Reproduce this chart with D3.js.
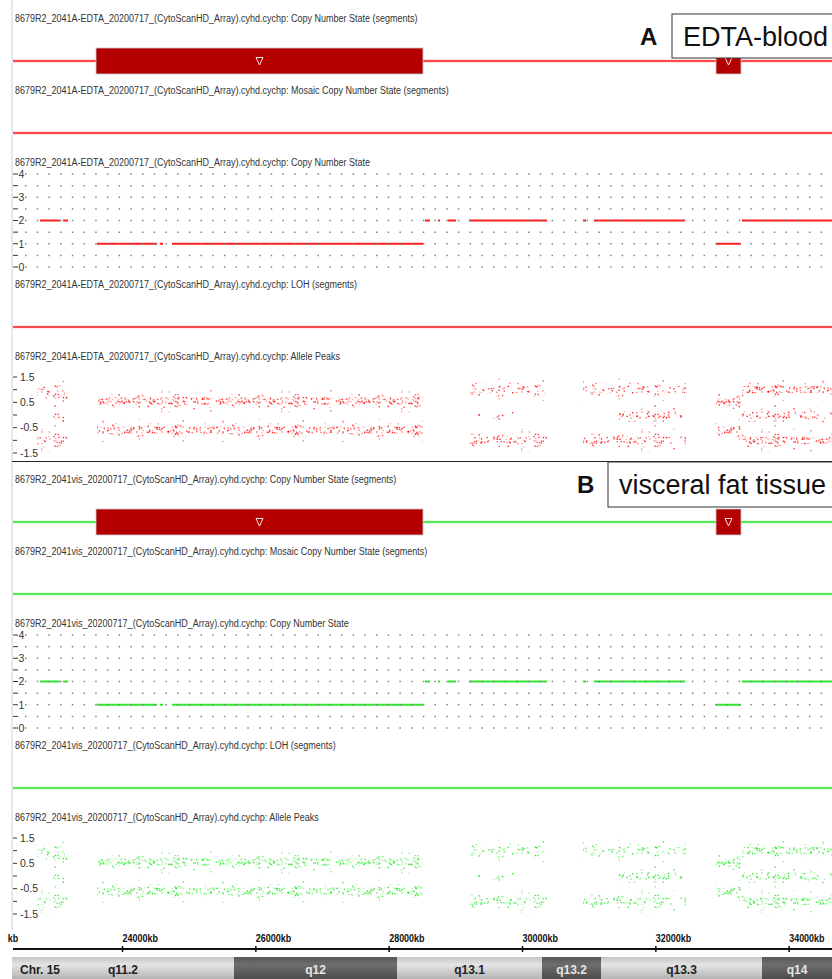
<!DOCTYPE html>
<html>
<head>
<meta charset="utf-8">
<script src="https://cdn.jsdelivr.net/npm/d3@7"></script>
<style>
  body{margin:0;background:#fff;}
  svg{display:block;}
</style>
</head>
<body>
<svg id="chart"></svg>
<script>
// ---- data ----
var samples = ["8679R2_2041A-EDTA_20200717_(CytoScanHD_Array).cyhd.cychp",
               "8679R2_2041vis_20200717_(CytoScanHD_Array).cyhd.cychp"];
var panelLetters = ["A","B"];
var tissues = ["EDTA-blood","visceral fat tissue"];
var trackNames = ["Copy Number State (segments)","Mosaic Copy Number State (segments)",
                  "Copy Number State","LOH (segments)","Allele Peaks"];

var kbTicks = [24000,26000,28000,30000,32000,34000];

// cytoband ideogram, chr 15
var bandNames = ["q11.2","q12","q13.1","q13.2","q13.3","q14"];
var bandStarts = [22350,25680,28125,30300,31185,33600];
var bandEnds   = [25680,28125,30300,31185,33600,34650];
var bandStain  = ["gneg","gpos","gneg","gpos","gneg","gpos"];

// copy number loss segments (CN state segments track)
var lossStart = [23610,32910];
var lossEnd   = [28515,33285];

// copy number state, per marker run
var cnStart = [22770,23115,23625,24570,24750,28545,28740,28890,29205,30915,31080,32910,33300];
var cnEnd   = [23070,23190,24525,24615,28515,28620,28770,29010,30375,30960,32445,33285,34650];
var cnState = [2,2,1,1,1,2,2,2,2,2,2,1,2];
var cnTicks = [0,0.5,1,1.5,2,2.5,3,3.5,4];

// allele peak clusters: start, end, peak value, density (2 dense, 1 medium, 0 sparse)
var peakStart = [22725,22950,22725, 23625,23625, 29205,29340,29205, 30915,31455,30915, 32910,32910, 33300,33300,33300];
var peakEnd   = [23190,23130,23190, 28515,28515, 30375,29895,30375, 32460,32400,32460, 33285,33285, 34650,34650,34650];
var peakValue = [0.9,0,-1.0, 0.55,-0.6, 1.0,0,-1.0, 1.0,0,-1.0, 0.5,-0.6, 1.0,0,-1.0];
var peakDens  = [1,0,1, 2,2, 1,0,1, 1,1,1, 2,2, 2,1,2];
var apTicks = [1.5,1,0.5,0,-0.5,-1,-1.5];
var apLabels = {"1.5":"1.5","0.5":"0.5","-0.5":"-0.5","-1.5":"-1.5"};

// ---- layout ----
var W = 832, H = 979;
var panelTop = [0,461];
var colors = [{line:"#ff1c1c",halo:"#ffd0d0",dot:"#ff1e1e"},
              {line:"#2ee62e",halo:"#d0f7d0",dot:"#30e830"}];
var boxes = [{x:672,y:14,h:44,lx:640},{x:608,y:462,h:45,lx:577}];
var sans = "'Liberation Sans',Arial,sans-serif";
var squeeze = 0.85;

var svg = d3.select("#chart").attr("width",W).attr("height",H);
var defs = svg.append("defs");

var x = d3.scaleLinear().domain([22350,34650]).range([12,832]);

// speckle textures for the allele peak clouds (styling only)
var tileW = 120, tileH = 20;
var dotCounts = [12,42,150,280];
function hash(k){ var s = Math.sin(k*12.9898+78.233)*43758.5453; return s-Math.floor(s); }
colors.forEach(function(c,ci){
  dotCounts.forEach(function(n,di){
    var p = defs.append("pattern")
                .attr("id","sp"+ci+"_"+di)
                .attr("patternUnits","userSpaceOnUse")
                .attr("width",tileW).attr("height",tileH);
    var pts = d3.range(n).map(function(i){
      var k = i*3+di*1000;
      return [hash(k)*tileW,hash(k+1)*tileH,hash(k+2)];
    });
    p.selectAll("rect").data(pts).enter().append("rect")
     .attr("x",function(d){return d[0];})
     .attr("y",function(d){return d[1];})
     .attr("width",1.4).attr("height",1.4)
     .attr("fill",c.dot)
     .attr("opacity",function(d){return 0.4+0.6*d[2];});
  });
});

// ideogram gradients
function grad(id,stops){
  var g = defs.append("linearGradient").attr("id",id)
              .attr("x1",0).attr("y1",0).attr("x2",0).attr("y2",1);
  stops.forEach(function(s){
    g.append("stop").attr("offset",s[0]).attr("stop-color",s[1]);
  });
}
grad("gneg",[[0,"#c4c4c4"],[0.35,"#e4e4e4"],[1,"#b4b4b4"]]);
grad("gpos",[[0,"#585858"],[0.35,"#6e6e6e"],[1,"#4c4c4c"]]);

// faint left border
svg.append("line").attr("x1",12).attr("x2",12).attr("y1",0).attr("y2",930)
   .attr("stroke","#dcdcf0").attr("stroke-width",1.5);

function narrowText(g,xp,yp,size,t,fill){
  return g.append("text")
          .attr("transform","translate("+xp+","+yp+") scale("+squeeze+",1)")
          .attr("font-family",sans).attr("font-size",size)
          .attr("fill",fill||"#333").text(t);
}

function trackLine(g,y,c){
  g.append("line").attr("x1",13).attr("x2",W).attr("y1",y).attr("y2",y)
   .attr("stroke",c.halo).attr("stroke-width",3.2);
  g.append("line").attr("x1",13).attr("x2",W).attr("y1",y).attr("y2",y)
   .attr("stroke",c.line).attr("stroke-width",1.4);
}

function title(g,y,s,t){
  narrowText(g,15,y,10.6,s+": "+t,"#333");
}

function drawPanel(pi){
  var top = panelTop[pi], c = colors[pi];
  var g = svg.append("g").attr("transform","translate(0,"+top+")");

  // track 1: copy number segments
  title(g,22,samples[pi],trackNames[0]);
  trackLine(g,61,c);
  var segs = g.selectAll("g.seg").data(lossStart).enter().append("g").classed("seg",true);
  segs.append("rect")
      .attr("x",function(d){return x(d);})
      .attr("width",function(d,i){return x(lossEnd[i])-x(d);})
      .attr("y",48).attr("height",26)
      .attr("fill","#b40000").attr("stroke","#c8c8c8").attr("stroke-width",0.8);
  segs.append("path")
      .attr("d",function(d,i){
        var cx = (x(d)+x(lossEnd[i]))/2;
        return "M"+(cx-3.5)+",57.5L"+(cx+3.5)+",57.5L"+cx+",65Z";
      })
      .attr("fill","none").attr("stroke","#fff").attr("stroke-width",0.9);

  // track 2: mosaic
  title(g,94,samples[pi],trackNames[1]);
  trackLine(g,133,c);

  // track 3: copy number state
  title(g,166,samples[pi],trackNames[2]);
  var yCN = d3.scaleLinear().domain([0,4]).range([267,174]);
  g.selectAll("line.cn").data(cnStart).enter().append("line").classed("cn",true)
   .attr("x1",function(d){return x(d);})
   .attr("x2",function(d,i){return x(cnEnd[i]);})
   .attr("y1",function(d,i){return yCN(cnState[i]);})
   .attr("y2",function(d,i){return yCN(cnState[i]);})
   .attr("stroke",c.line).attr("stroke-width",2);
  g.selectAll("line.cngrid").data(cnTicks).enter().append("line").classed("cngrid",true)
   .attr("x1",25).attr("x2",W)
   .attr("y1",function(d){return yCN(d);}).attr("y2",function(d){return yCN(d);})
   .attr("stroke","#808080").attr("stroke-width",1.5).attr("stroke-dasharray","1.5,10.2");
  var cnAx = g.selectAll("g.cntick").data(cnTicks).enter().append("g").classed("cntick",true)
              .attr("transform",function(d){return "translate(0,"+yCN(d)+")";});
  cnAx.append("line").attr("x1",13).attr("x2",18).attr("stroke","#333").attr("stroke-width",1);
  cnAx.filter(function(d){return d%1===0;}).append("text")
      .attr("x",18.5).attr("dy","0.36em")
      .attr("font-family",sans).attr("font-size",10.5).attr("fill","#333")
      .text(function(d){return d;});

  // track 4: LOH
  title(g,288,samples[pi],trackNames[3]);
  trackLine(g,327,c);

  // track 5: allele peaks
  title(g,360,samples[pi],trackNames[4]);
  var yAP = d3.scaleLinear().domain([-1.5,1.5]).range([453,377]);
  var layers = [[0.45,0],[0.27,1],[0.14,-1]];
  var clouds = g.selectAll("g.cloud").data(peakStart).enter().append("g").classed("cloud",true);
  layers.forEach(function(L){
    clouds.append("rect")
          .attr("x",function(d){return x(d);})
          .attr("width",function(d,i){return x(peakEnd[i])-x(d);})
          .attr("y",function(d,i){return yAP(peakValue[i]+L[0]);})
          .attr("height",function(d,i){return yAP(peakValue[i]-L[0])-yAP(peakValue[i]+L[0]);})
          .attr("fill",function(d,i){
            var k = L[1]<0 ? peakDens[i]+1 : (peakDens[i]===0 ? 0 : L[1]);
            return "url(#sp"+pi+"_"+k+")";
          });
  });
  var apAx = g.selectAll("g.aptick").data(apTicks).enter().append("g").classed("aptick",true)
              .attr("transform",function(d){return "translate(0,"+yAP(d)+")";});
  apAx.append("line").attr("x1",13).attr("x2",17).attr("stroke","#333").attr("stroke-width",1);
  apAx.append("text")
      .attr("x",20).attr("dy","0.36em")
      .attr("font-family",sans).attr("font-size",10.5).attr("fill","#333")
      .text(function(d){return apLabels[String(d)] || "";});

  // panel label + tissue box
  var b = boxes[pi];
  svg.append("rect").attr("x",b.x).attr("y",b.y).attr("width",W-b.x+10).attr("height",b.h)
     .attr("fill","#fff").attr("stroke","#333").attr("stroke-width",1);
  svg.append("text").attr("x",b.x+11).attr("y",b.y+b.h/2).attr("dy","0.36em")
     .attr("font-family",sans).attr("font-size",27)
     .attr("fill","#111").text(tissues[pi]);
  svg.append("text").attr("x",b.lx).attr("y",b.y+b.h/2).attr("dy","0.36em")
     .attr("font-family",sans).attr("font-size",24)
     .attr("font-weight","bold").attr("fill","#111").text(panelLetters[pi]);
}

drawPanel(0);
// separator between the panels
svg.append("line").attr("x1",12).attr("x2",W).attr("y1",461.5).attr("y2",461.5)
   .attr("stroke","#222").attr("stroke-width",1);
drawPanel(1);

// ---- kb axis ----
var axG = svg.append("g").attr("transform","translate(0,949)");
axG.append("line").attr("x1",13).attr("x2",W).attr("stroke","#111").attr("stroke-width",2);
axG.call(d3.axisTop(x).tickValues(kbTicks).tickFormat(function(d){return d+"kb";}).tickSize(0));
axG.select(".domain").remove();
axG.selectAll(".tick line").attr("y1",-3).attr("y2",3).attr("stroke","#111").attr("stroke-width",1.5);
axG.selectAll(".tick text").attr("text-anchor","start").attr("y",0).attr("dy",0)
   .attr("transform","translate(0,-7) scale(0.78,1)")
   .attr("font-family",sans).attr("font-size",11.5).attr("font-weight","bold").attr("fill","#111");
axG.append("text").attr("transform","translate(13,-7) scale(0.78,1)")
   .attr("font-family",sans).attr("font-size",11.5).attr("font-weight","bold")
   .attr("fill","#111").text("kb");

// ---- ideogram ----
var ideo = svg.append("g").attr("transform","translate(0,957)");
ideo.selectAll("rect").data(bandStarts).enter().append("rect")
    .attr("x",function(d){return x(d);})
    .attr("width",function(d,i){return x(bandEnds[i])-x(d);})
    .attr("y",0).attr("height",22)
    .attr("fill",function(d,i){return "url(#"+bandStain[i]+")";});
ideo.selectAll("text.band").data(bandNames).enter().append("text").classed("band",true)
    .attr("x",function(d,i){return (x(bandStarts[i])+x(bandEnds[i]))/2;})
    .attr("y",17).attr("text-anchor","middle")
    .attr("font-family",sans).attr("font-size",12)
    .attr("font-weight","bold")
    .attr("fill",function(d,i){return bandStain[i]==="gpos"?"#e6e6e6":"#222";})
    .text(function(d){return d;});
ideo.append("text").attr("x",20).attr("y",17)
    .attr("font-family",sans).attr("font-size",12)
    .attr("font-weight","bold").attr("fill","#222").text("Chr. 15");
</script>
</body>
</html>
